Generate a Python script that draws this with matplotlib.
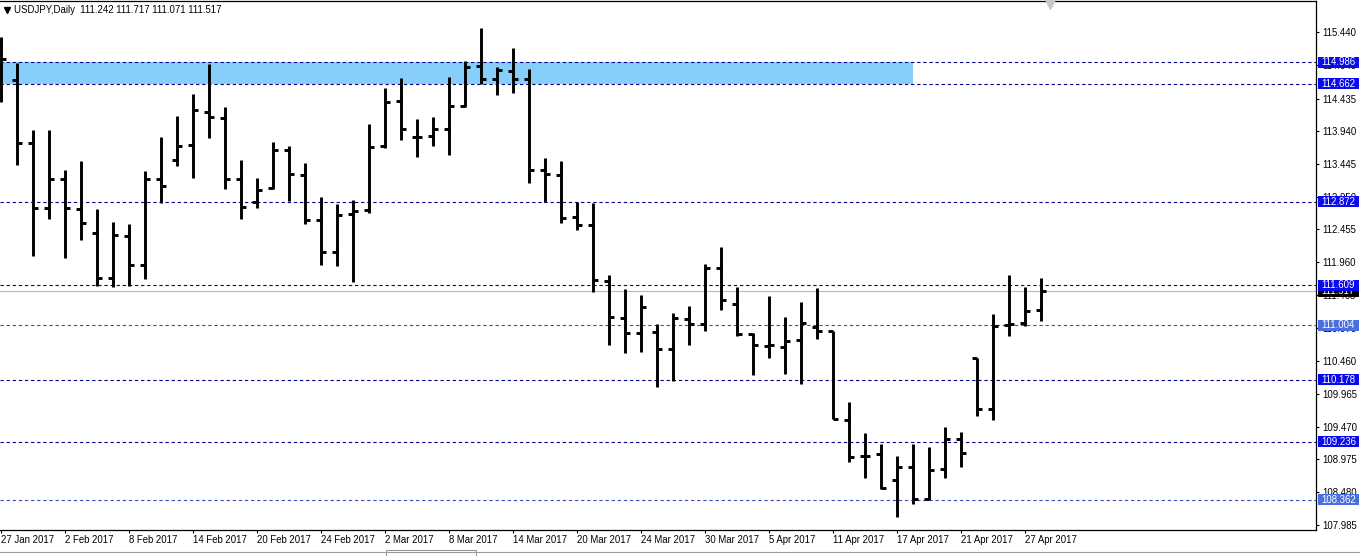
import matplotlib
matplotlib.use("Agg")
import matplotlib.pyplot as plt
from matplotlib.patches import Rectangle
from matplotlib.lines import Line2D

plt.rcParams['font.family'] = ['Liberation Sans', 'DejaVu Sans']

# ---------------- data ----------------
tick_labels = ["27 Jan 2017", "2 Feb 2017", "8 Feb 2017", "14 Feb 2017", "20 Feb 2017",
               "24 Feb 2017", "2 Mar 2017", "8 Mar 2017", "14 Mar 2017", "20 Mar 2017",
               "24 Mar 2017", "30 Mar 2017", "5 Apr 2017", "11 Apr 2017", "17 Apr 2017",
               "21 Apr 2017", "27 Apr 2017"]

opens = [115.300, 114.724, 113.758, 112.788, 113.224, 112.773, 112.406, 111.724, 112.359, 111.924,
         113.224, 113.515, 113.738, 114.231, 114.149, 113.215, 112.876, 113.079, 113.655, 113.285,
         112.603, 112.114, 112.685, 112.750, 113.715, 114.397, 113.856, 113.876, 113.982, 114.321,
         114.937, 114.731, 114.861, 114.731, 113.359, 113.276, 112.644, 112.523, 111.679, 111.118,
         110.891, 110.906, 110.644, 111.103, 111.028, 111.876, 111.326, 110.867, 110.690, 110.679,
         110.785, 110.977, 110.917, 109.573, 109.018, 109.049, 108.664, 108.861, 108.367, 108.830,
         109.280, 110.503, 109.740, 111.012, 111.033, 111.242]
highs = [115.376, 114.973, 113.962, 113.962, 113.356, 113.490, 112.765, 112.564, 112.535, 113.344,
         113.852, 114.171, 114.508, 114.965, 114.306, 113.503, 113.235, 113.776, 113.724, 113.458,
         112.947, 112.841, 112.902, 114.053, 114.599, 114.750, 114.129, 114.155, 114.765, 115.008,
         115.512, 114.921, 115.200, 114.882, 113.538, 113.488, 112.876, 112.852, 111.770, 111.549,
         111.462, 111.018, 111.185, 111.296, 111.927, 112.190, 111.588, 110.891, 111.447, 111.129,
         111.352, 111.568, 110.917, 109.846, 109.367, 109.200, 109.018, 109.200, 109.155, 109.458,
         109.391, 110.503, 111.170, 111.765, 111.583, 111.717]
lows = [114.391, 113.432, 112.058, 112.618, 112.027, 112.303, 111.599, 111.588, 111.599, 111.712,
        112.852, 113.421, 113.240, 113.846, 113.076, 112.609, 112.776, 113.064, 112.891, 112.538,
        111.917, 111.906, 111.664, 112.709, 113.685, 113.806, 113.549, 113.724, 113.588, 114.306,
        114.655, 114.488, 114.518, 113.155, 112.876, 112.549, 112.447, 111.512, 110.700, 110.588,
        110.594, 110.073, 110.164, 110.700, 110.921, 111.230, 110.836, 110.246, 110.512, 110.261,
        110.109, 110.791, 109.584, 108.927, 108.685, 108.523, 108.094, 108.291, 108.361, 108.685,
        108.852, 109.624, 109.564, 110.846, 110.997, 111.071]
closes = [115.038, 113.773, 112.788, 113.224, 112.788, 112.546, 111.724, 112.371, 111.924, 113.224,
          113.118, 113.724, 114.258, 114.164, 113.227, 112.791, 113.058, 113.655, 113.300, 112.603,
          112.109, 112.670, 112.735, 113.709, 114.394, 113.982, 113.850, 113.977, 114.321, 114.921,
          114.740, 114.876, 114.740, 113.361, 113.296, 112.633, 112.523, 111.694, 111.134, 110.891,
          111.285, 110.644, 111.109, 111.028, 111.876, 111.391, 110.871, 110.709, 110.700, 110.770,
          111.043, 110.917, 109.584, 109.003, 109.028, 108.534, 108.861, 108.371, 108.815, 109.280,
          109.064, 109.740, 110.993, 111.020, 111.224, 111.517]

level_values = [114.986, 114.662, 112.872, 111.609, 111.004, 110.178, 109.236, 108.362]
level_light = [False, False, False, False, True, False, False, True]
zone_low, zone_high = 114.662, 114.986
zone_end_bar = 57
last_price = 111.517
ytick_values = [115.440, 114.945, 114.435, 113.940, 113.445, 112.950, 112.455, 111.960,
                111.465, 110.970, 110.460, 109.965, 109.470, 108.975, 108.480, 107.985]
title = "USDJPY,Daily  111.242 111.717 111.071 111.517"

# ---------------- figure ----------------
W, H = 1360, 556
fig = plt.figure(figsize=(W / 100, H / 100), dpi=100)
fig.patch.set_facecolor('white')
ax_left, ax_right, ax_top, ax_bot = 0, 1316, 1, 530
ax = fig.add_axes([ax_left / W, 1 - ax_bot / H, (ax_right - ax_left) / W, (ax_bot - ax_top) / H])

n = len(opens)
xs = list(range(n))
ax.set_xlim(-1 / 16, (ax_right - 1) / 16)
ax.set_ylim(107.902, 115.917)

# zone
ax.add_patch(Rectangle((-2, zone_low), zone_end_bar + 2, zone_high - zone_low,
                       facecolor='#87cefa', edgecolor='none', zorder=0))

# level lines
for v, light in zip(level_values, level_light):
    ax.axhline(v, color='#3a4fb8' if light else '#00008b', lw=0.8,
               dashes=(3, 2.5), zorder=1)
ax.axhline(last_price, color='#b8b8b8', lw=0.8, zorder=1)

# OHLC bars
lw = 2.1
tick = 0.3
ax.vlines(xs, lows, highs, color='black', lw=lw, zorder=3)
ax.hlines(opens, [x - tick for x in xs], xs, color='black', lw=lw, zorder=3)
ax.hlines(closes, xs, [x + tick for x in xs], color='black', lw=lw, zorder=3)

# spines
for s in ['top', 'right', 'bottom']:
    ax.spines[s].set_color('black')
    ax.spines[s].set_linewidth(0.9)
ax.spines['left'].set_visible(False)

# y axis
ax.yaxis.tick_right()
ax.set_yticks(ytick_values)
ax.set_yticklabels([f"{v:.3f}" for v in ytick_values])
ax.tick_params(axis='y', direction='out', length=2.5, width=0.8, pad=1.8,
               labelsize=6.9, colors='black')

# x axis
ax.set_xticks(xs[::4])
ax.set_xticklabels(tick_labels)
ax.tick_params(axis='x', direction='out', length=2.0, width=0.8, pad=1.8,
               labelsize=6.9, colors='black')
for lbl in ax.get_xticklabels():
    lbl.set_ha('left')

# level labels on the right
ytr = ax.get_yaxis_transform()
box_x0 = 1318 / ax_right
box_w = 41 / ax_right
box_h = 11 / 66.0
# current price label (drawn below the level labels)
ax.add_patch(Rectangle((box_x0, last_price - box_h / 2), box_w, box_h, transform=ytr,
                       facecolor='black', edgecolor='none', clip_on=False, zorder=4))
ax.text(1321 / ax_right, last_price, f"{last_price:.3f}", transform=ytr, color='white',
        fontsize=6.9, va='center', ha='left', zorder=4.5, clip_on=False)
for v, light in zip(level_values, level_light):
    fc = '#4a6fe0' if light else '#0a0aee'
    ax.add_patch(Rectangle((box_x0, v - box_h / 2), box_w, box_h, transform=ytr,
                           facecolor=fc, edgecolor='none', clip_on=False, zorder=5))
    ax.text(1321 / ax_right, v, f"{v:.3f}", transform=ytr, color='white', fontsize=6.9,
            va='center', ha='left', zorder=6, clip_on=False)

# title
fig.add_artist(Line2D([7 / W], [1 - 10 / H], marker='v', ms=4.5, color='black',
                      transform=fig.transFigure))
fig.text(14 / W, 1 - 10 / H, title, fontsize=6.9, va='center', ha='left', color='black')

# small grey shift marker at top
fig.add_artist(Line2D([1050 / W], [1 - 4 / H], marker='v', ms=7, color='#c8c8c8',
                      transform=fig.transFigure))

# bottom tab strip
fig.add_artist(Line2D([0, 1], [1 - 551.5 / H] * 2, color='#9a9a9a', lw=0.8,
                      transform=fig.transFigure))
fig.add_artist(Rectangle((386 / W, 0), 90 / W, 6 / H, transform=fig.transFigure,
                         facecolor='white', edgecolor='#9a9a9a', lw=0.8))

fig.savefig('out.png', dpi=100, facecolor='white')
